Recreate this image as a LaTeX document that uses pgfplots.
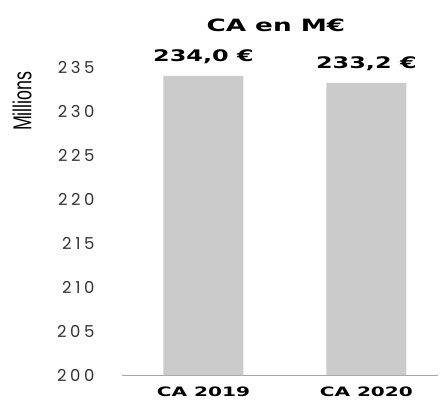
\documentclass[border=0pt]{standalone}
\usepackage{pgfplots}
\pgfplotsset{compat=1.18}
\usepackage{fontspec}
\setmainfont{DejaVu Sans}
\newfontfamily\pop{Poppins}
\newfontfamily\dvb{DejaVu Sans}
\newfontfamily\lib{Liberation Sans}
\definecolor{bargray}{HTML}{CBCBCB}
\begin{document}
\begin{tikzpicture}
\useasboundingbox (-122bp,-26bp) rectangle (319bp,375bp);
\begin{axis}[
  at={(0,0)}, anchor=south west,
  scale only axis, width=316bp, height=352bp,
  ymin=200, ymax=240, xmin=-0.5, xmax=1.44,
  ytick={200,205,...,235},
  xtick={0,1},
  axis lines*=left,
  y axis line style={draw=none},
  x axis line style={draw=gray!70, line width=0.8pt},
  major tick length=0pt,
  /pgf/number format/assume math mode=true,
  yticklabel style={font=\fontsize{16.5}{17}\selectfont\pop\addfontfeature{LetterSpace=22}, text=black!80, xshift=-24bp},
  xticklabel style={font=\fontsize{13}{14}\selectfont\dvb\bfseries, yshift=-8bp},
  xticklabels={\scalebox{1.55}[1]{CA 2019}, \scalebox{1.55}[1]{CA 2020}},
  title={\scalebox{1.55}[1]{\dvb\bfseries\fontsize{17}{18}\selectfont CA en M€}},
  title style={at={(axis description cs:0.487,0.975)}, anchor=center},
  ybar, bar width=80bp,
  nodes near coords={\scalebox{1.5}[1]{\pgfmathprintnumber[fixed,precision=1,fixed zerofill,use comma]{\pgfplotspointmeta} €}},
  nodes near coords style={font=\dvb\bfseries\fontsize{16}{17}\selectfont, anchor=south, yshift=9bp},
  point meta=explicit,
  clip=false,
]
\addplot[fill=bargray, draw=none] coordinates {(0,234.0) [234.0] (1,233.2) [233.2]};
\node[rotate=90, anchor=center] at ([xshift=-100bp]rel axis cs:0,0.778) {\scalebox{0.69}[1]{\lib\fontsize{26}{28}\selectfont Millions}};
\end{axis}
\end{tikzpicture}
\end{document}
